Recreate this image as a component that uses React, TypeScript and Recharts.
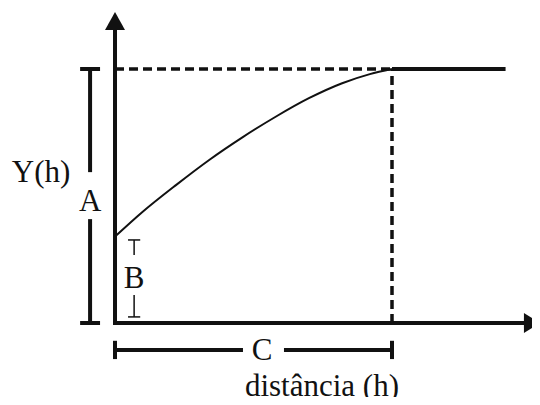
import React from 'react';
import {
  ComposedChart,
  Line,
  Scatter,
  XAxis,
  YAxis,
  ReferenceLine,
} from 'recharts';

// distance in % of the range (C = 100), semivariance in % of the sill (A = 100)
const curveH = [0, 10, 22, 34, 46, 58, 70, 82, 92, 100];
const curveGamma = [34, 43.8, 54.3, 64.2, 73.1, 81.2, 88.5, 94.4, 98, 100];

const SILL = 100;
const RANGE = 100;
const NUGGET = 34;
const PLATEAU_END = 141;

const X_DOMAIN: [number, number] = [-41.52, 153.43];
const Y_DOMAIN: [number, number] = [-32.28, 127.17];

const arrowTips = [
  { x: 0, y: 122.4, dir: 'up' },
  { x: 153.4, y: 0, dir: 'right' },
];

const labels = [
  { x: -26.7, y: 55.5, text: 'Y(h)' },
  { x: -9, y: 44.1, text: 'A' },
  { x: 6.9, y: 13.8, text: 'B' },
  { x: 53.1, y: -14.6, text: 'C' },
  { x: 74.7, y: -28.7, text: 'distância (h)' },
  { x: 53.1, y: 126.8, text: 'autocorrelação dos valores está representada por' },
];

const curve = curveH.map((h, i) => ({ x: h, y: curveGamma[i] }));

const INK = '#111111';
const FONT = "'Liberation Serif', 'Times New Roman', serif";

const Arrow = (props: any) => {
  const { cx, cy, payload } = props;
  const pts =
    payload.dir === 'up'
      ? `${cx},${cy} ${cx - 10},${cy + 18} ${cx + 10},${cy + 18}`
      : `${cx},${cy} ${cx - 16},${cy - 10} ${cx - 16},${cy + 10}`;
  return <polygon points={pts} fill={INK} />;
};

const Caption = (props: any) => {
  const { cx, cy, payload } = props;
  return (
    <text x={cx} y={cy} textAnchor="middle" fontFamily={FONT} fontSize={31} fill={INK}>
      {payload.text}
    </text>
  );
};

const seg = (x1: number, y1: number, x2: number, y2: number) => [
  { x: x1, y: y1 },
  { x: x2, y: y2 },
];

const App: React.FC = () => {
  return (
    <div style={{ width: 540, height: 405, background: '#fff', margin: -8 }}>
      <ComposedChart width={540} height={405} margin={{ top: 0, right: 0, bottom: 0, left: 0 }}>
        <XAxis type="number" dataKey="x" domain={X_DOMAIN} allowDataOverflow hide />
        <YAxis type="number" dataKey="y" domain={Y_DOMAIN} allowDataOverflow hide />

        {/* axes */}
        <ReferenceLine segment={seg(0, -0.8, 0, 116)} stroke={INK} strokeWidth={4} ifOverflow="visible" />
        <ReferenceLine segment={seg(-0.7, 0, 148, 0)} stroke={INK} strokeWidth={4} ifOverflow="visible" />

        {/* sill and range guides */}
        <ReferenceLine segment={seg(0, SILL, RANGE, SILL)} stroke={INK} strokeWidth={3.5} strokeDasharray="9 5" ifOverflow="visible" />
        <ReferenceLine segment={seg(RANGE, SILL, PLATEAU_END, SILL)} stroke={INK} strokeWidth={4} ifOverflow="visible" />
        <ReferenceLine segment={seg(RANGE, 0, RANGE, SILL)} stroke={INK} strokeWidth={3.5} strokeDasharray="9 5" ifOverflow="visible" />

        {/* A: sill bracket */}
        <ReferenceLine segment={seg(-9, SILL, -9, 59.4)} stroke={INK} strokeWidth={4} ifOverflow="visible" />
        <ReferenceLine segment={seg(-9, 40.9, -9, 0)} stroke={INK} strokeWidth={4} ifOverflow="visible" />
        <ReferenceLine segment={seg(-12.6, SILL, -5.4, SILL)} stroke={INK} strokeWidth={4} ifOverflow="visible" />
        <ReferenceLine segment={seg(-12.6, 0, -5.4, 0)} stroke={INK} strokeWidth={4} ifOverflow="visible" />

        {/* B: nugget bracket */}
        <ReferenceLine segment={seg(6.9, 32.7, 6.9, 26.8)} stroke={INK} strokeWidth={1.5} ifOverflow="visible" />
        <ReferenceLine segment={seg(6.9, 11, 6.9, 2.4)} stroke={INK} strokeWidth={1.5} ifOverflow="visible" />
        <ReferenceLine segment={seg(4.7, 32.7, 9.1, 32.7)} stroke={INK} strokeWidth={1.5} ifOverflow="visible" />
        <ReferenceLine segment={seg(4.7, 2.4, 9.1, 2.4)} stroke={INK} strokeWidth={1.5} ifOverflow="visible" />

        {/* C: range bracket */}
        <ReferenceLine segment={seg(0, -10.6, 46.2, -10.6)} stroke={INK} strokeWidth={4} ifOverflow="visible" />
        <ReferenceLine segment={seg(61, -10.6, RANGE, -10.6)} stroke={INK} strokeWidth={4} ifOverflow="visible" />
        <ReferenceLine segment={seg(0, -7, 0, -14.2)} stroke={INK} strokeWidth={4} ifOverflow="visible" />
        <ReferenceLine segment={seg(RANGE, -7, RANGE, -14.2)} stroke={INK} strokeWidth={4} ifOverflow="visible" />

        <Line
          data={curve}
          dataKey="y"
          type="monotone"
          stroke={INK}
          strokeWidth={2}
          dot={false}
          activeDot={false}
          isAnimationActive={false}
        />
        <Scatter data={arrowTips} shape={Arrow} isAnimationActive={false} />
        <Scatter data={labels} shape={Caption} isAnimationActive={false} />
      </ComposedChart>
    </div>
  );
};

export default App;
